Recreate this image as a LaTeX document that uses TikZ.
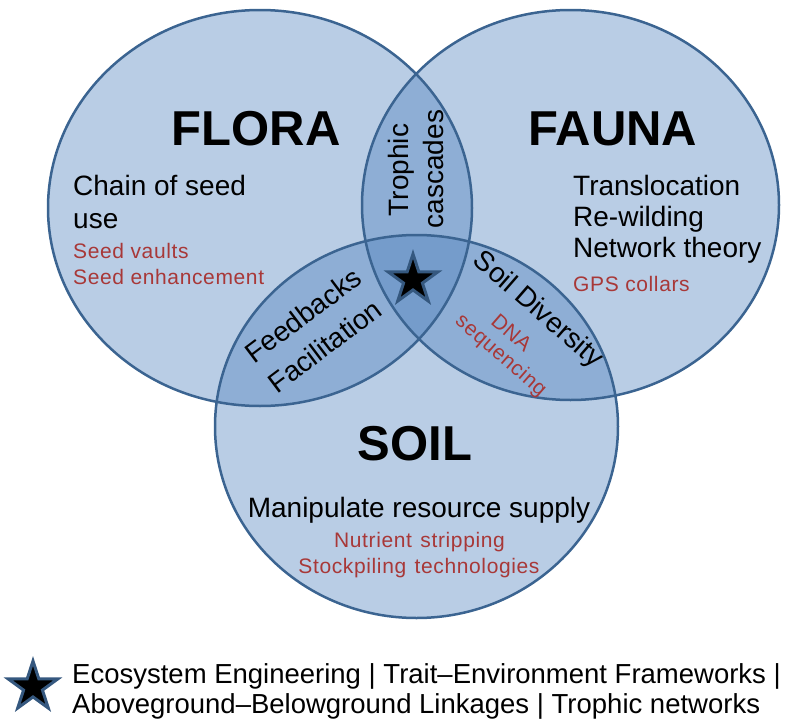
\documentclass[tikz,border=0pt]{standalone}
\usepackage{fontspec}
\setmainfont{Liberation Sans}
\newfontfamily\redfont[LetterSpace=3]{Liberation Sans}
\usetikzlibrary{shapes.geometric}
\definecolor{accent}{HTML}{4F81BD}
\definecolor{edgeblue}{HTML}{3B6491}
\definecolor{notered}{RGB}{168,56,56}
\definecolor{starblue}{HTML}{35587F}
\tikzset{
  setshape/.style={fill=accent, fill opacity=0.4},
  setline/.style={draw=edgeblue, line width=2.5pt},
  title/.style={font=\fontsize{49}{59}\selectfont\bfseries, inner sep=0, anchor=base},
  body/.style={font=\fontsize{28}{34}\selectfont, inner sep=0},
  note/.style={font=\redfont\fontsize{21}{26}\selectfont, text=notered, inner sep=0},
  legend/.style={font=\fontsize{27.5}{33}\selectfont, inner sep=0, anchor=base west},
  bigstar/.style={star, star points=5, star point ratio=2.618, minimum size=52pt,
                  inner sep=0, fill=black, draw=starblue, line width=3pt}
}
\begin{document}
\begin{tikzpicture}[x=1pt,y=-1pt]
\useasboundingbox (0,0) rectangle (801,723);
% set fills
\fill[setshape] (260,208) ellipse [x radius=212pt, y radius=198pt];
\fill[setshape] (570.5,205) ellipse [x radius=208.5pt, y radius=195pt];
\fill[setshape] (416.5,426.5) ellipse [x radius=201.5pt, y radius=191.5pt];
% set outlines
\draw[setline] (260,208) ellipse [x radius=212pt, y radius=198pt];
\draw[setline] (570.5,205) ellipse [x radius=208.5pt, y radius=195pt];
\draw[setline] (416.5,426.5) ellipse [x radius=201.5pt, y radius=191.5pt];

% FLORA
\node[title] (flora) at (256,145) {FLORA};
\node[body, anchor=base west] (chain) at (73,195) {Chain of seed};
\node[body, anchor=base west] (use) at (73,228) {use};
\node[note, anchor=base west] (vaults) at (73,258) {Seed vaults};
\node[note, anchor=base west] (enh) at (73,284) {Seed enhancement};

% FAUNA
\node[title] (fauna) at (613,145) {FAUNA};
\node[body, anchor=base west] (transl) at (573,195) {Translocation};
\node[body, anchor=base west] (rewild) at (573,226) {Re-wilding};
\node[body, anchor=base west] (netw) at (573,257) {Network theory};
\node[note, anchor=base west] (gps) at (573,291) {GPS collars};

% SOIL
\node[title] (soil) at (415,460) {SOIL};
\node[body, anchor=base] (manip) at (419,517) {Manipulate resource supply};
\node[note, anchor=base] (nutr) at (419.5,547) {Nutrient\hspace{0.4em}stripping};
\node[note, anchor=base] (stock) at (419,573) {Stockpiling\hspace{0.4em}technologies};

% overlaps
\node[body, anchor=base, rotate=90] (trophic) at (408,170) {Trophic};
\node[body, anchor=base, rotate=90] (cascades) at (443,169) {cascades};
\node[body, anchor=base, rotate=37] (feedb) at (309,323) {Feedbacks};
\node[body, anchor=base, rotate=37] (facil) at (331,354) {Facilitation};
\node[body, anchor=base, rotate=-41] (soildiv) at (533,316) {Soil Diversity};
\node[note, anchor=base, rotate=-41] (dna) at (507,338) {DNA};
\node[note, anchor=base, rotate=-41] (seq) at (497,360) {sequencing};

% centre star
\node[bigstar] (cstar) at (413,280) {};

% legend
\node[bigstar] (lstar) at (33,687) {};
\node[legend] (leg1) at (72,683) {Ecosystem Engineering | Trait–Environment Frameworks |};
\node[legend] (leg2) at (72,713) {Aboveground–Belowground Linkages | Trophic networks};
\end{tikzpicture}
\end{document}
